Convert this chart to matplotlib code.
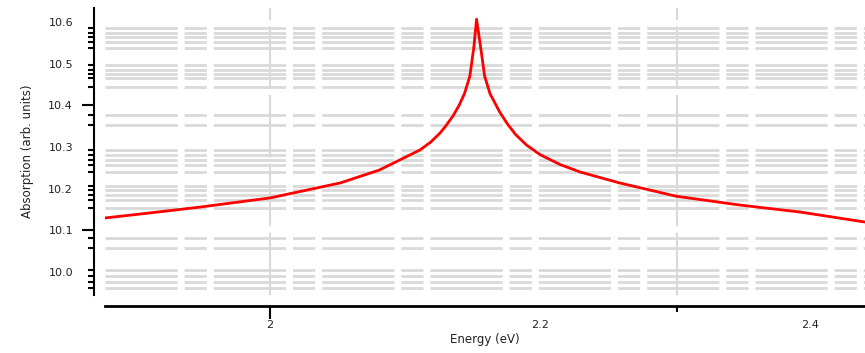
#!/usr/bin/env python3
'''Absorption spectrum around the resonance peak.'''

import matplotlib
matplotlib.use('Agg')
import matplotlib.pyplot as plt

# values
energy = [1.878, 1.911, 1.948, 2.000, 2.052, 2.081, 2.111, 2.119, 2.126,
          2.130, 2.1356, 2.140, 2.144, 2.148, 2.151, 2.153, 2.156, 2.159,
          2.163, 2.170, 2.176, 2.182, 2.190, 2.200, 2.215, 2.230, 2.259,
          2.301, 2.348, 2.393, 2.441]
absorption = [10.130, 10.142, 10.156, 10.178, 10.214, 10.245, 10.293, 10.312,
              10.334, 10.350, 10.375, 10.400, 10.428, 10.470, 10.540, 10.607,
              10.540, 10.470, 10.428, 10.385, 10.355, 10.330, 10.305, 10.282,
              10.258, 10.240, 10.214, 10.182, 10.161, 10.144, 10.120]

y_labels = [10.0, 10.1, 10.2, 10.3, 10.4, 10.5, 10.6]
y_long_ticks = [10.1, 10.4]
x_labels = [2.0, 2.2, 2.4]
x_long_ticks = [2.0]
x_grid = [2.0, 2.3015]

grid_levels = [10.586, 10.574, 10.564, 10.552, 10.538,
               10.497, 10.485, 10.475, 10.466, 10.444,
               10.377, 10.353,
               10.293, 10.281, 10.269, 10.257, 10.240,
               10.206, 10.197, 10.185, 10.173, 10.154,
               10.082, 10.058,
               10.005, 9.990, 9.976, 9.962]


def make_plot(out_path):
    '''Draw the spectrum and save it.'''
    fig = plt.figure(figsize=(8.65, 3.53), dpi=100)
    ax = fig.add_axes([105 / 865, 58 / 353, 760 / 865, 287 / 353])

    for g in grid_levels:
        ax.axhline(g, color='#d9d9d9', lw=2, ls=(0, (26, 2.5, 8, 2.5)), zorder=0)
    for g in x_grid:
        ax.axvline(g, color='#d9d9d9', lw=1.5, ls=(0, (30, 3)), zorder=0)

    ax.plot(energy, absorption, color='red', lw=2, zorder=3)

    ax.set_xlim(1.8778, 2.4407)
    ax.set_ylim(9.945, 10.634)

    for side in ['top', 'right']:
        ax.spines[side].set_visible(False)
    ax.spines['left'].set_position(('outward', 8))
    ax.spines['bottom'].set_position(('outward', 8))
    ax.spines['left'].set_linewidth(1.5)
    ax.spines['bottom'].set_linewidth(2)

    ax.set_yticks(y_labels)
    ax.set_yticklabels(['%.1f' % v for v in y_labels])
    ax.set_yticks(grid_levels, minor=True)
    ax.set_xticks(x_labels)
    ax.set_xticklabels(['%g' % v for v in x_labels])
    ax.set_xticks([x_grid[1]], minor=True)

    ax.tick_params(axis='y', which='major', length=0, width=1.5, labelsize=8,
                   labelcolor='#222222', pad=15)
    ax.tick_params(axis='x', which='major', length=0, width=1.5, labelsize=8,
                   labelcolor='#222222', pad=10)
    ax.tick_params(axis='both', which='minor', length=4.5, width=1.5)

    for v, t in zip(y_labels, ax.yaxis.get_major_ticks()):
        t.tick1line.set_markersize(9 if v in y_long_ticks else 0)
    for v, t in zip(x_labels, ax.xaxis.get_major_ticks()):
        t.tick1line.set_markersize(9 if v in x_long_ticks else 0)

    ax.set_xlabel('Energy (eV)', fontsize=8.5, color='#222222', labelpad=2)
    ax.set_ylabel('Absorption (arb. units)', fontsize=8.5, color='#222222',
                  labelpad=10)

    fig.savefig(out_path, dpi=100)


if __name__ == '__main__':
    make_plot('out.png')
